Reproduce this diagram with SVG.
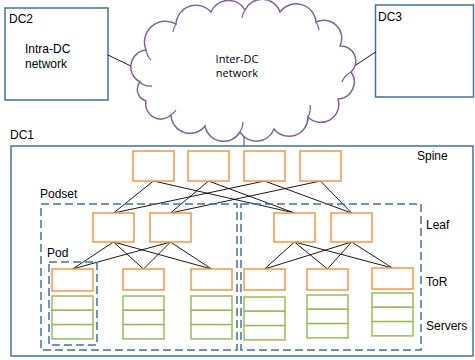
<svg xmlns="http://www.w3.org/2000/svg" width="475" height="360" viewBox="0 0 475 360">
<style>
  text { font-family: "Liberation Sans", Arial, sans-serif; font-size: 12px; fill: #000; }
  .cloudtxt { font-family: "Open Sans", "Liberation Sans", sans-serif; font-size: 11px; }
  .dc { fill: #fff; stroke: #41719C; stroke-width: 1.5; }
  .dash { fill: none; stroke: #41719C; stroke-width: 1.5; stroke-dasharray: 8 4; }
  .sw { fill: #fff; stroke: #F79646; stroke-width: 1.5; }
  .srv { fill: #fff; stroke: #9BBB59; stroke-width: 1.5; }
  .link { stroke: #000; stroke-width: 0.9; fill: none; }
  .cloud { fill: #fff; stroke: #8064A2; stroke-width: 1.5; }
</style>
<defs>
  <g id="rack">
    <rect class="srv" x="0" y="0" width="41" height="14.3"/>
    <rect class="srv" x="0" y="14.3" width="41" height="14.3"/>
    <rect class="srv" x="0" y="28.6" width="41" height="14.3"/>
  </g>
</defs>

<g id="dc2">
  <rect class="dc" x="5" y="8" width="103" height="92"/>
  <text x="9" y="23">DC2</text>
  <text x="25" y="53">Intra-DC</text>
  <text x="25" y="68">network</text>
</g>
<g id="dc3">
  <rect class="dc" x="375.5" y="5" width="98" height="92"/>
  <text x="378" y="21">DC3</text>
</g>

<g id="dc1">
  <text x="10" y="139">DC1</text>
  <rect class="dc" x="11" y="146" width="462" height="210" fill="none"/>
</g>

<g id="connectors">
  <line class="link" x1="108" y1="55" x2="137" y2="69"/>
  <line class="link" x1="353" y1="67" x2="375.5" y2="52"/>
  <line x1="244" y1="132" x2="244" y2="146" stroke="#41719C" stroke-width="1.2"/>
  <line class="link" x1="153.5" y1="181" x2="113.5" y2="213"/>
  <line class="link" x1="153.5" y1="181" x2="294.5" y2="213"/>
  <line class="link" x1="208.5" y1="181" x2="170.5" y2="213"/>
  <line class="link" x1="208.5" y1="181" x2="294.5" y2="213"/>
  <line class="link" x1="264.5" y1="181" x2="113.5" y2="213"/>
  <line class="link" x1="264.5" y1="181" x2="351.5" y2="213"/>
  <line class="link" x1="320.5" y1="181" x2="170.5" y2="213"/>
  <line class="link" x1="320.5" y1="181" x2="351.5" y2="213"/>
  <line class="link" x1="113.5" y1="242" x2="72.5" y2="269"/>
  <line class="link" x1="113.5" y1="242" x2="143.5" y2="269"/>
  <line class="link" x1="113.5" y1="242" x2="211.5" y2="269"/>
  <line class="link" x1="170.5" y1="242" x2="72.5" y2="269"/>
  <line class="link" x1="170.5" y1="242" x2="143.5" y2="269"/>
  <line class="link" x1="170.5" y1="242" x2="211.5" y2="269"/>
  <line class="link" x1="294.5" y1="242" x2="264.5" y2="269"/>
  <line class="link" x1="294.5" y1="242" x2="327.5" y2="269"/>
  <line class="link" x1="294.5" y1="242" x2="392.5" y2="268"/>
  <line class="link" x1="351.5" y1="242" x2="264.5" y2="269"/>
  <line class="link" x1="351.5" y1="242" x2="327.5" y2="269"/>
  <line class="link" x1="351.5" y1="242" x2="392.5" y2="268"/>
</g>

<g id="cloud">
  <path class="cloud" d="M140,82 A17,17 0 0 1 146,50 A21,21 0 0 1 176,24 A20,20 0 0 1 211,12 A19,19 0 0 1 245,10 A19,19 0 0 1 280,12 A20,20 0 0 1 316,22 A18,18 0 0 1 340,46 A15,15 0 0 1 351,72 A17,17 0 0 1 338,99 A18,18 0 0 1 308,117 A19,19 0 0 1 274,129 A19,19 0 0 1 240,132 A19,19 0 0 1 205,126 A19,19 0 0 1 171,115 A15,15 0 0 1 146,101 A12,12 0 0 1 140,82 Z"/>
  <path d="M146,50 A18,18 0 0 0 151,60 M176,24 A20,20 0 0 0 173,32 M245,10 A18,18 0 0 0 242,18 M316,22 A18,18 0 0 1 319,30 M351,72 A18,18 0 0 0 342,82 M308,117 A18,18 0 0 0 310,105 M240,132 A18,18 0 0 0 243,122 M171,115 A16,16 0 0 0 176,110 M140,82 A14,14 0 0 0 152,86" fill="none" stroke="#8064A2" stroke-width="1.3"/>
  <text class="cloudtxt" x="237" y="63" text-anchor="middle">Inter-DC</text>
  <text class="cloudtxt" x="237" y="77" text-anchor="middle">network</text>
</g>

<g id="podset1">
  <rect class="dash" x="41" y="204" width="196" height="146"/>
  <text x="40" y="198">Podset</text>
</g>
<g id="podset2">
  <rect class="dash" x="241" y="204" width="180" height="146"/>
</g>
<g id="pod">
  <rect class="dash" x="49" y="262" width="48" height="83"/>
  <text x="47" y="257">Pod</text>
</g>

<g id="spine1"><rect class="sw" x="133" y="151" width="41" height="30"/></g>
<g id="spine2"><rect class="sw" x="188" y="151" width="41" height="30"/></g>
<g id="spine3"><rect class="sw" x="244" y="151" width="41" height="30"/></g>
<g id="spine4"><rect class="sw" x="300" y="151" width="41" height="30"/></g>

<g id="leaf1"><rect class="sw" x="93" y="213" width="41" height="29"/></g>
<g id="leaf2"><rect class="sw" x="150" y="213" width="41" height="29"/></g>
<g id="leaf3"><rect class="sw" x="274" y="213" width="41" height="29"/></g>
<g id="leaf4"><rect class="sw" x="331" y="213" width="41" height="29"/></g>

<g id="tor1"><rect class="sw" x="52" y="269" width="41" height="22"/></g>
<g id="tor2"><rect class="sw" x="123" y="269" width="41" height="21"/></g>
<g id="tor3"><rect class="sw" x="191" y="269" width="41" height="21"/></g>
<g id="tor4"><rect class="sw" x="244" y="269" width="41" height="21"/></g>
<g id="tor5"><rect class="sw" x="307" y="269" width="41" height="21"/></g>
<g id="tor6"><rect class="sw" x="372" y="268" width="41" height="21"/></g>

<g id="servers1"><use href="#rack" x="52" y="296"/></g>
<g id="servers2"><use href="#rack" x="123" y="296"/></g>
<g id="servers3"><use href="#rack" x="191" y="296"/></g>
<g id="servers4"><use href="#rack" x="244" y="297"/></g>
<g id="servers5"><use href="#rack" x="307" y="295"/></g>
<g id="servers6"><use href="#rack" x="372" y="293"/></g>

<g id="labels">
  <text x="417" y="160">Spine</text>
  <text x="426" y="229">Leaf</text>
  <text x="426" y="286">ToR</text>
  <text x="426" y="330">Servers</text>
</g>
</svg>
